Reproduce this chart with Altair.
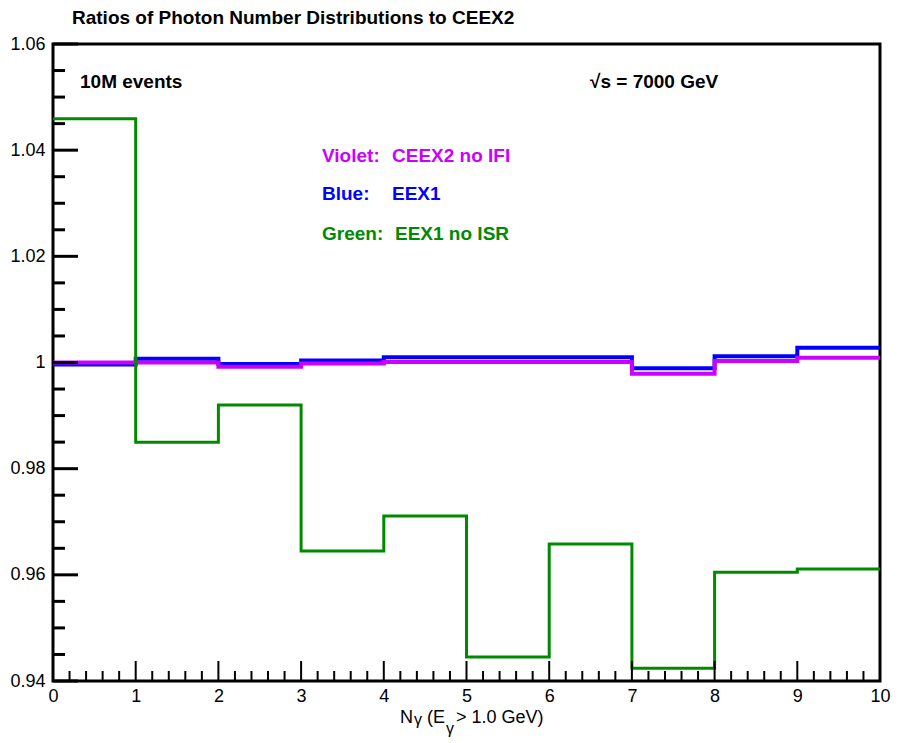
import altair as alt
import pandas as pd

# ---- data ----
bin_edges = [0, 1, 2, 3, 4, 5, 6, 7, 8, 9, 10]
green_eex1_no_isr = [1.0459, 0.9850, 0.9920, 0.9645, 0.9711, 0.9445, 0.9658, 0.9424, 0.9605, 0.9611]
blue_eex1 = [0.9996, 1.0007, 0.9997, 1.0004, 1.0010, 1.0010, 1.0010, 0.9989, 1.0012, 1.0028]
violet_ceex2_no_ifi = [1.0000, 1.0000, 0.9992, 0.9998, 1.0001, 1.0001, 1.0001, 0.9979, 1.0003, 1.0009]

x_tick_labels = [0, 1, 2, 3, 4, 5, 6, 7, 8, 9, 10]
y_tick_labels = [0.94, 0.96, 0.98, 1.00, 1.02, 1.04, 1.06]
x_minor_ticks = [round(0.2 * i, 1) for i in range(51)]
y_minor_ticks = [round(0.94 + 0.005 * i, 3) for i in range(25)]

FONT = "Liberation Sans, Arial, Helvetica, sans-serif"
VIOLET = "#CC00FF"
BLUE = "#0000FF"
GREEN = "#008A00"


def step_df(vals):
    return pd.DataFrame({"x": bin_edges, "y": list(vals) + [vals[-1]]})


xs = alt.Scale(domain=[0, 10], nice=False, zero=False)
ys = alt.Scale(domain=[0.94, 1.06], nice=False, zero=False)

x_axis = alt.Axis(values=x_tick_labels, ticks=False, domain=False, grid=False, title=None,
                  labelFont=FONT, labelFontSize=18, labelPadding=6, labelColor="black",
                  format="d", labelFlush=False)
y_axis = alt.Axis(values=y_tick_labels, ticks=False, domain=False, grid=False, title=None,
                  labelFont=FONT, labelFontSize=18, labelPadding=8, labelColor="black",
                  labelExpr="datum.value == 1 ? '1' : format(datum.value, '.2f')", labelFlush=False)


def hist(vals, color, width):
    return alt.Chart(step_df(vals)).mark_line(
        interpolate="step-after", color=color, strokeWidth=width
    ).encode(
        x=alt.X("x:Q", scale=xs, axis=x_axis),
        y=alt.Y("y:Q", scale=ys, axis=y_axis),
    )


blue_layer = hist(blue_eex1, BLUE, 4)
violet_layer = hist(violet_ceex2_no_ifi, VIOLET, 4)
green_layer = hist(green_eex1_no_isr, GREEN, 3)

y_major = [v for v in y_tick_labels]
y_minor = [v for v in y_minor_ticks if v not in y_major]
x_major = [float(v) for v in x_tick_labels]
x_minor = [v for v in x_minor_ticks if v not in x_major]

y_major_rules = alt.Chart(pd.DataFrame({"v": y_major})).mark_rule(color="black", strokeWidth=3).encode(
    y=alt.Y("v:Q", scale=ys, axis=y_axis), x=alt.value(0), x2=alt.value(25))
y_minor_rules = alt.Chart(pd.DataFrame({"v": y_minor})).mark_rule(color="black", strokeWidth=3).encode(
    y=alt.Y("v:Q", scale=ys, axis=y_axis), x=alt.value(0), x2=alt.value(12))
x_major_rules = alt.Chart(pd.DataFrame({"v": x_major})).mark_rule(color="black", strokeWidth=2).encode(
    x=alt.X("v:Q", scale=xs, axis=x_axis), y=alt.value(637), y2=alt.value(617))
x_minor_rules = alt.Chart(pd.DataFrame({"v": x_minor})).mark_rule(color="black", strokeWidth=2).encode(
    x=alt.X("v:Q", scale=xs, axis=x_axis), y=alt.value(637), y2=alt.value(627))


def label(text, px, py, size, color="black", bold=True, baseline="middle"):
    return alt.Chart(pd.DataFrame({"t": [text]})).mark_text(
        font=FONT, fontSize=size, fontWeight="bold" if bold else "normal",
        color=color, align="left", baseline=baseline
    ).encode(text="t:N", x=alt.value(px), y=alt.value(py))


texts = [
    label("Ratios of Photon Number Distributions to CEEX2", 19, -26, 19),
    label("10M events", 27, 38, 19),
    label("\u221as = 7000 GeV", 537, 38, 19),
    label("Violet:", 269, 112, 19, VIOLET),
    label("CEEX2 no IFI", 339, 112, 19, VIOLET),
    label("Blue:", 269, 150, 19, BLUE),
    label("EEX1", 339, 150, 19, BLUE),
    label("Green:", 269, 190, 19, GREEN),
    label("EEX1 no ISR", 342, 190, 19, GREEN),
    label("N", 347, 679, 18, bold=False, baseline="alphabetic"),
    label("\u03b3", 361, 681, 16, bold=False, baseline="alphabetic"),
    label("(E", 374, 679, 18, bold=False, baseline="alphabetic"),
    label("\u03b3", 393, 690, 16, bold=False, baseline="alphabetic"),
    label("> 1.0 GeV)", 403, 679, 18, bold=False, baseline="alphabetic"),
]

chart = alt.layer(
    blue_layer, violet_layer, green_layer,
    y_major_rules, y_minor_rules, x_major_rules, x_minor_rules,
    *texts
).properties(
    width=827, height=637,
    autosize=alt.AutoSizeParams(type="none"),
    padding={"left": 45, "top": 36, "right": 18, "bottom": 60},
    background="white",
).configure_view(stroke="black", strokeWidth=3)

chart.save("out.html", embed_options={"renderer": "svg", "actions": False})
